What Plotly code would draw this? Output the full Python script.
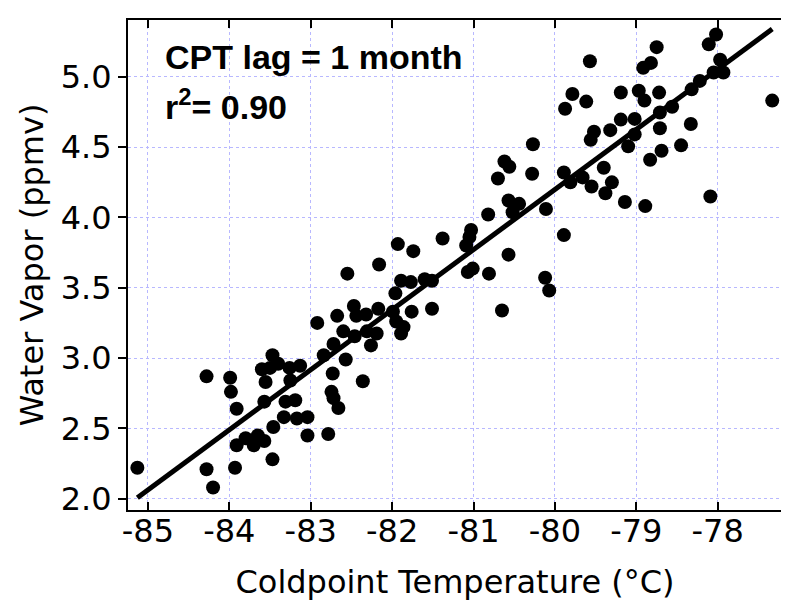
import numpy as np
import plotly.graph_objects as go

# Coldpoint temperature (°C) and water vapor (ppmv)
cpt = [
    -85.13, -84.28, -84.20, -84.28, -83.99, -83.98, -83.91, -83.93, -83.91, -83.80,
    -83.70, -83.65, -83.57, -83.46, -83.47, -83.57, -83.33, -83.47, -83.60, -83.40,
    -83.50, -83.26, -83.13, -83.555, -83.25, -83.31, -83.19, -83.17, -83.04, -83.04,
    -82.785,
    -82.92, -82.675, -82.55, -82.16, -82.47, -82.44, -82.32, -82.17, -82.60, -82.46,
    -82.72, -82.84, -82.57, -82.73, -82.36, -82.745, -82.72, -82.66, -82.26, -82.19,
    -82.31, -81.99, -81.96, -81.89, -81.77, -81.60, -81.51, -81.76, -81.51, -81.95,
    -81.86, -81.89, -81.93, -81.74, -81.38,
    -81.03, -81.05, -81.09, -80.82, -80.57, -80.70, -80.62, -80.56, -80.27, -80.28,
    -80.57, -80.44, -80.52, -80.11, -81.07, -81.01, -80.81, -80.12, -80.07, -80.65,
    -79.89, -79.57, -79.785, -79.615, -79.875, -79.52, -79.56, -79.32, -79.19, -79.19,
    -78.97, -78.90, -78.915, -78.82, -78.75, -79.02, -79.02, -79.10, -79.89, -79.81,
    -79.66, -79.55, -79.40, -79.30, -79.38, -79.14, -78.89, -78.83, -78.02, -78.11,
    -77.97, -77.93, -78.05, -78.22, -78.32, -78.72, -78.56, -78.71, -78.71, -78.33,
    -78.45, -78.69, -77.33, -78.09,
]
water_vapor = [
    2.22, 2.21, 2.08, 2.87, 2.86, 2.76, 2.64, 2.22, 2.38, 2.43,
    2.38, 2.45, 2.41, 2.51, 2.28, 2.69, 2.58, 3.02, 2.92, 2.96,
    2.93, 2.93, 2.945, 2.83, 2.84, 2.69, 2.70, 2.57, 2.58, 2.45,
    2.46,
    3.25, 3.30, 3.60, 3.665, 3.37, 3.30, 3.31, 3.35, 3.19, 3.155,
    3.10, 3.02, 2.99, 2.89, 2.835, 2.76, 2.715, 2.645, 3.09, 3.175,
    3.19, 3.33, 3.46, 3.55, 3.54, 3.56, 3.55, 3.33, 3.35, 3.26,
    3.22, 3.175, 3.81, 3.76, 3.85,
    3.91, 3.86, 3.80, 4.02, 3.735, 4.276, 4.397, 4.36, 4.52, 4.31,
    4.12, 4.096, 4.036, 4.06, 3.612, 3.636, 3.60, 3.571, 3.48, 3.338,
    3.874, 5.11, 4.877, 4.823, 4.772, 4.609, 4.551, 4.62, 4.695, 4.888,
    4.90, 4.83, 5.063, 5.098, 5.21, 4.70, 4.59, 4.505, 4.319, 4.249,
    4.284, 4.219, 4.353, 4.249, 4.172, 4.109, 4.08, 4.41, 5.30, 5.23,
    5.12, 5.03, 5.03, 4.97, 4.91, 4.887, 4.786, 4.746, 4.634, 4.664,
    4.512, 4.474, 4.83, 4.148,
]

x_tickvals = [-85, -84, -83, -82, -81, -80, -79, -78]
x_ticktext = ["-85", "-84", "-83", "-82", "-81", "-80", "-79", "-78"]
y_tickvals = [2.0, 2.5, 3.0, 3.5, 4.0, 4.5, 5.0]
y_ticktext = ["2.0", "2.5", "3.0", "3.5", "4.0", "4.5", "5.0"]

x_range = [-85.245, -77.21]
y_range = [1.92, 5.403]

x_arr = np.array(cpt)
y_arr = np.array(water_vapor)
slope, intercept = np.polyfit(x_arr, y_arr, 1)
fit_x = np.array([x_arr.min(), x_arr.max()])
fit_y = slope * fit_x + intercept

fig = go.Figure()
fig.add_trace(go.Scatter(
    x=cpt, y=water_vapor, mode="markers",
    marker=dict(color="black", size=14, line=dict(width=0)),
    showlegend=False, hoverinfo="skip",
))
fig.add_trace(go.Scatter(
    x=fit_x, y=fit_y, mode="lines",
    line=dict(color="black", width=5),
    showlegend=False, hoverinfo="skip",
))

tick_font = dict(family="DejaVu Sans", size=32, color="black")
title_font = dict(family="DejaVu Sans", size=32, color="black")
grid_color = "#b8b8ff"

fig.update_layout(
    width=789, height=600,
    margin=dict(l=120, r=5, t=12, b=98),
    paper_bgcolor="white", plot_bgcolor="white",
    xaxis=dict(
        range=x_range, tickvals=x_tickvals, ticktext=x_ticktext,
        ticks="inside", ticklen=8, tickwidth=2, tickcolor="black",
        showline=True, linewidth=2, linecolor="black", mirror="ticks",
        showgrid=True, gridcolor=grid_color, gridwidth=1, griddash="dot",
        zeroline=False, tickfont=tick_font, ticklabelstandoff=-8,
        title=dict(text="Coldpoint Temperature (°C)", font=title_font, standoff=21),
    ),
    yaxis=dict(
        range=y_range, tickvals=y_tickvals, ticktext=y_ticktext,
        ticks="outside", ticklen=8, tickwidth=2, tickcolor="black",
        showline=True, linewidth=2, linecolor="black", mirror="ticks",
        showgrid=True, gridcolor=grid_color, gridwidth=1, griddash="dot",
        zeroline=False, tickfont=tick_font,
        title=dict(text="Water Vapor (ppmv)", font=title_font, standoff=8),
    ),
    xaxis2=dict(
        overlaying="x", anchor="y", range=x_range, tickvals=x_tickvals,
        ticks="outside", ticklen=8, tickwidth=2, tickcolor="black",
        mirror="ticks", showline=False, showgrid=False, zeroline=False,
        showticklabels=False,
    ),
    yaxis2=dict(
        overlaying="y", anchor="x", range=y_range, tickvals=y_tickvals,
        ticks="inside", ticklen=8, tickwidth=2, tickcolor="black",
        mirror="ticks", showline=False, showgrid=False, zeroline=False,
        showticklabels=False,
    ),
    annotations=[
        dict(text="<b>CPT lag = 1 month</b>", xref="paper", yref="paper",
             x=0.053, y=0.967, xanchor="left", yanchor="top", showarrow=False,
             font=dict(family="Liberation Sans", size=34, color="black")),
        dict(text="<b>r<sup>2</sup>= 0.90</b>", xref="paper", yref="paper",
             x=0.053, y=0.875, xanchor="left", yanchor="top", showarrow=False,
             font=dict(family="Liberation Sans", size=34, color="black")),
    ],
)

fig.write_html("out.html")
